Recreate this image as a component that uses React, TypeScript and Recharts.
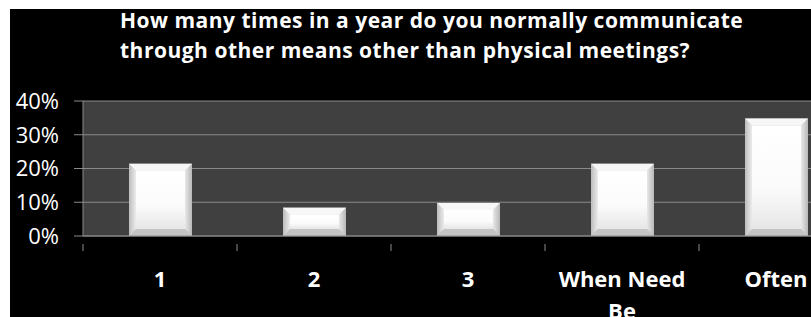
import { BarChart, Bar, XAxis, YAxis, CartesianGrid } from 'recharts';

// Survey: communication frequency other than physical meetings

const categories = ['1', '2', '3', 'When Need Be', 'Often'];
const shares = [21.4, 8.4, 9.8, 21.4, 34.8];
const yTicks = [0, 10, 20, 30, 40];
const titleLines = [
  'How many times in a year do you normally communicate',
  'through other means other than physical meetings?',
];

const data = categories.map((category, i) => ({ category, share: shares[i] }));

const GRID = '#8a8a8a';
const FONT = '"Open Sans", Lato, sans-serif';

function BevelBar(props: any) {
  const { x, y, width, height } = props;
  if (!height || height <= 0) return null;
  const b = Math.min(7, width / 6, height / 4);
  const x2 = x + width;
  const y2 = y + height;
  return (
    <g>
      <rect x={x} y={y} width={width} height={height} fill="#d6d6d6" />
      <polygon points={`${x},${y} ${x2},${y} ${x2 - b},${y + b} ${x + b},${y + b}`} fill="#f7f7f7" />
      <polygon points={`${x},${y} ${x + b},${y + b} ${x + b},${y2 - b} ${x},${y2}`} fill="url(#bevelLeft)" />
      <polygon points={`${x2},${y} ${x2},${y2} ${x2 - b},${y2 - b} ${x2 - b},${y + b}`} fill="url(#bevelRight)" />
      <polygon points={`${x},${y2} ${x + b},${y2 - b} ${x2 - b},${y2 - b} ${x2},${y2}`} fill="#c4c4c4" />
      <rect x={x + b} y={y + b} width={width - 2 * b} height={height - 2 * b} fill="url(#barFace)" />
    </g>
  );
}

function CategoryTick(props: any) {
  const { x, y, payload } = props;
  const half = payload?.offset ?? 77;
  const words = String(payload.value).split(' ');
  const lines: string[] = [];
  let cur = '';
  words.forEach((w) => {
    const next = cur ? cur + ' ' + w : w;
    if (next.length > 10 && cur) {
      lines.push(cur);
      cur = w;
    } else {
      cur = next;
    }
  });
  if (cur) lines.push(cur);
  return (
    <g>
      <line x1={x - half} y1={y} x2={x - half} y2={y + 7} stroke={GRID} />
      <text
        x={x}
        y={y + 43}
        textAnchor="middle"
        fill="#ffffff"
        fontFamily={FONT}
        fontWeight={700}
        fontSize={22}
      >
        {lines.map((l, i) => (
          <tspan key={i} x={x} dy={i === 0 ? 0 : 32}>
            {l}
          </tspan>
        ))}
      </text>
    </g>
  );
}

export default function App() {
  return (
    <div
      style={{
        position: 'fixed',
        left: 0,
        top: 0,
        width: 811,
        height: 317,
        background: '#ffffff',
        overflow: 'hidden',
      }}
    >
      <div
        style={{
          position: 'absolute',
          left: 10,
          top: 9,
          width: 801,
          height: 308,
          background: '#000000',
          overflow: 'hidden',
        }}
      >
        <div
          style={{
            position: 'absolute',
            left: 110,
            top: -4,
            color: '#ffffff',
            fontFamily: FONT,
            fontWeight: 700,
            fontSize: 21,
            letterSpacing: 0.5,
            lineHeight: '30px',
            whiteSpace: 'nowrap',
          }}
        >
          {titleLines.map((t) => (
            <div key={t}>{t}</div>
          ))}
        </div>
        <BarChart
          width={860}
          height={308}
          data={data}
          margin={{ top: 92, right: 17, left: 10, bottom: 21 }}
          barSize={63}
        >
          <defs>
            <linearGradient id="barFace" x1="0" y1="0" x2="0" y2="1">
              <stop offset="0%" stopColor="#ffffff" />
              <stop offset="60%" stopColor="#fbfbfb" />
              <stop offset="100%" stopColor="#e6e6e6" />
            </linearGradient>
            <linearGradient id="bevelLeft" x1="0" y1="0" x2="1" y2="0">
              <stop offset="0%" stopColor="#bcbcbc" />
              <stop offset="100%" stopColor="#ececec" />
            </linearGradient>
            <linearGradient id="bevelRight" x1="0" y1="0" x2="1" y2="0">
              <stop offset="0%" stopColor="#e8e8e8" />
              <stop offset="100%" stopColor="#b8b8b8" />
            </linearGradient>
          </defs>
          <CartesianGrid fill="#404040" stroke={GRID} vertical={false} />
          <XAxis
            dataKey="category"
            height={60}
            interval={0}
            axisLine={{ stroke: GRID }}
            tickLine={false}
            tick={<CategoryTick />}
          />
          <YAxis
            width={63}
            domain={[0, 40]}
            ticks={yTicks}
            interval={0}
            tickFormatter={(v) => `${v}%`}
            axisLine={{ stroke: GRID }}
            tickLine={{ stroke: GRID }}
            tickSize={9}
            tickMargin={15}
            tick={{ fill: '#ffffff', fontSize: 22, fontFamily: FONT }}
          />
          <Bar dataKey="share" shape={<BevelBar />} isAnimationActive={false} />
        </BarChart>
      </div>
    </div>
  );
}
